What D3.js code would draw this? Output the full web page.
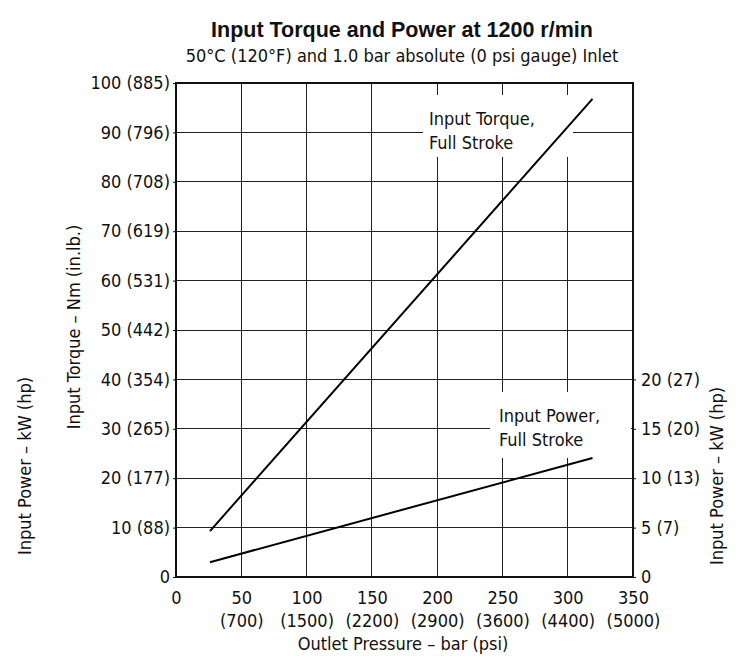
<!DOCTYPE html>
<html>
<head>
<meta charset="utf-8">
<script src="https://cdn.jsdelivr.net/npm/d3@7"></script>
<style>
  body { margin: 0; background: #fff; }
  text { font-family: "Liberation Sans Narrow", "DejaVu Sans Condensed", "Roboto", sans-serif; fill: #111; }
  .title { font-family: "Liberation Sans", "Roboto", sans-serif; font-weight: bold; }
</style>
</head>
<body>
<svg id="chart" width="744" height="656"></svg>
<script>
// axis ticks
var pressureTicks = [0, 50, 100, 150, 200, 250, 300, 350];
var psiLabels = ["", "(700)", "(1500)", "(2200)", "(2900)", "(3600)", "(4400)", "(5000)"];
var torqueTicks = [0, 10, 20, 30, 40, 50, 60, 70, 80, 90, 100];
var inlbLabels = ["", "(88)", "(177)", "(265)", "(354)", "(442)", "(531)", "(619)", "(708)", "(796)", "(885)"];
var powerTicks = [0, 5, 10, 15, 20];
var hpLabels = ["", "(7)", "(13)", "(20)", "(27)"];

// the two straight lines (bar -> Nm, bar -> kW)
var linePressure = [26, 319];
var torqueValues = [9.3, 96.8];
var powerValues = [1.5, 12.05];

var svg = d3.select("#chart");
var pLeft = 176, pRight = 633, pTop = 83, pBottom = 577;
var fs = 18;

var x = d3.scaleLinear().domain([0, 350]).range([pLeft, pRight]);
var y = d3.scaleLinear().domain([0, 100]).range([pBottom, pTop]);
// 20 kW sits on the 40 Nm line
var yPow = d3.scaleLinear().domain([0, 50]).range([pBottom, pTop]);

// grid
var grid = svg.append("g").attr("class", "grid");
grid.selectAll("line.h")
    .data(torqueTicks.slice(1, -1))
    .enter().append("line")
    .attr("x1", pLeft).attr("x2", pRight)
    .attr("y1", d => y(d)).attr("y2", d => y(d))
    .attr("stroke", "#222").attr("stroke-width", 1).attr("shape-rendering", "crispEdges");
grid.selectAll("line.v")
    .data(pressureTicks.slice(1, -1))
    .enter().append("line")
    .attr("y1", pTop).attr("y2", pBottom)
    .attr("x1", d => x(d)).attr("x2", d => x(d))
    .attr("stroke", "#222").attr("stroke-width", 1).attr("shape-rendering", "crispEdges");

svg.append("rect")
    .attr("x", pLeft).attr("y", pTop)
    .attr("width", pRight - pLeft).attr("height", pBottom - pTop)
    .attr("fill", "none").attr("stroke", "#111").attr("stroke-width", 1.2)
    .attr("shape-rendering", "crispEdges");

// left axis
var yAxis = svg.append("g")
    .attr("transform", "translate(" + pLeft + ",0)")
    .call(d3.axisLeft(y).tickValues(torqueTicks).tickSize(3).tickPadding(3)
      .tickFormat((d, i) => inlbLabels[i] ? d + " " + inlbLabels[i] : d));
yAxis.select(".domain").remove();
yAxis.selectAll("text").attr("font-size", fs).attr("fill", "#111").attr("font-family", null);
yAxis.selectAll("line").attr("stroke", "#111");

// right axis
var rAxis = svg.append("g")
    .attr("transform", "translate(" + pRight + ",0)")
    .call(d3.axisRight(yPow).tickValues(powerTicks).tickSize(3).tickPadding(5)
      .tickFormat((d, i) => hpLabels[i] ? d + " " + hpLabels[i] : d));
rAxis.select(".domain").remove();
rAxis.selectAll("text").attr("font-size", fs).attr("fill", "#111").attr("font-family", null);
rAxis.selectAll("line").attr("stroke", "#111");

// bottom axis, two rows
var xAxis = svg.append("g")
    .attr("transform", "translate(0," + pBottom + ")")
    .call(d3.axisBottom(x).tickValues(pressureTicks).tickSize(0).tickPadding(12));
xAxis.select(".domain").remove();
xAxis.selectAll("text").attr("font-size", fs).attr("fill", "#111").attr("font-family", null)
    .attr("dy", "0.85em");
xAxis.selectAll(".tick").append("text")
    .attr("y", 50).attr("text-anchor", "middle")
    .attr("font-size", fs).attr("fill", "#111")
    .text((d, i) => psiLabels[i]);

// white label boxes
svg.append("rect").attr("x", 423).attr("y", 95).attr("width", 150).attr("height", 62).attr("fill", "#fff");
svg.append("rect").attr("x", 490).attr("y", 392).attr("width", 141).attr("height", 66).attr("fill", "#fff");

// lines
var torqueLine = d3.line().x((d, i) => x(linePressure[i])).y(d => y(d));
var powerLine = d3.line().x((d, i) => x(linePressure[i])).y(d => yPow(d));
svg.append("path").datum(torqueValues).attr("d", torqueLine)
    .attr("fill", "none").attr("stroke", "#000").attr("stroke-width", 2);
svg.append("path").datum(powerValues).attr("d", powerLine)
    .attr("fill", "none").attr("stroke", "#000").attr("stroke-width", 2);

// line labels
function label(tx, ty, lines) {
  var t = svg.append("text").attr("x", tx).attr("y", ty).attr("font-size", fs);
  lines.forEach((s, i) => t.append("tspan").attr("x", tx).attr("dy", i ? 24 : 0).text(s));
}
label(429, 125, ["Input Torque,", "Full Stroke"]);
label(499, 422, ["Input Power,", "Full Stroke"]);

// titles
svg.append("text").attr("class", "title")
    .attr("x", 402).attr("y", 37).attr("text-anchor", "middle").attr("font-size", 21.5)
    .text("Input Torque and Power at 1200 r/min");
svg.append("text")
    .attr("x", 402).attr("y", 62).attr("text-anchor", "middle").attr("font-size", fs)
    .text("50°C (120°F) and 1.0 bar absolute (0 psi gauge) Inlet");

svg.append("text")
    .attr("text-anchor", "middle").attr("font-size", fs)
    .attr("transform", "translate(" + 403 + ",650)")
    .text("Outlet Pressure – bar (psi)");

function vTitle(cx, cy, s) {
  svg.append("text")
      .attr("text-anchor", "middle").attr("font-size", fs)
      .attr("transform", "translate(" + cx + "," + cy + ") rotate(-90)")
      .text(s);
}
vTitle(80, 327, "Input Torque – Nm (in.lb.)");
vTitle(31, 466, "Input Power – kW (hp)");
vTitle(723, 476, "Input Power – kW (hp)");
</script>
</body>
</html>
